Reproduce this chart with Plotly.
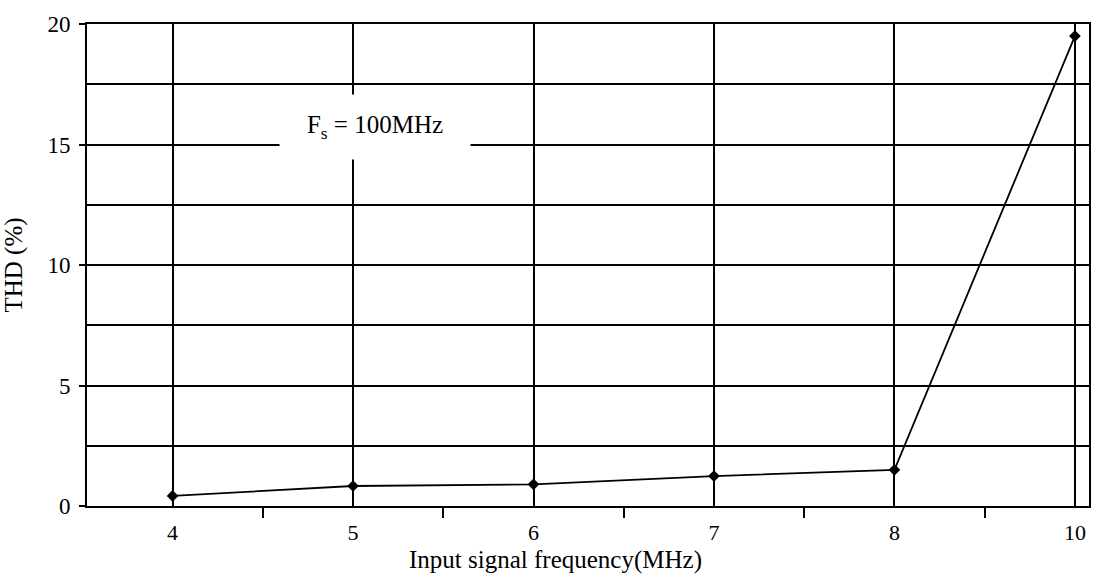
import plotly.graph_objects as go

freq_labels = ["4", "5", "6", "7", "8", "10"]
thd_percent = [0.42, 0.83, 0.9, 1.24, 1.5, 19.5]
y_tick_vals = [0, 5, 10, 15, 20]
y_grid_step = 2.5

x_idx = list(range(len(freq_labels)))
serif = "Liberation Serif, Times New Roman, serif"

fig = go.Figure()
fig.add_trace(go.Scatter(
    x=x_idx, y=thd_percent, mode="lines+markers",
    line=dict(color="black", width=1.8),
    marker=dict(symbol="diamond", size=9, color="black"),
    showlegend=False, cliponaxis=False,
))

fig.update_layout(
    width=1108, height=578,
    margin=dict(l=87, r=19, t=21, b=72),
    paper_bgcolor="white", plot_bgcolor="white",
    font=dict(family=serif, color="black", size=22),
    xaxis=dict(
        range=[-0.474, 5.078],
        tickvals=x_idx, ticktext=freq_labels,
        ticks="", showgrid=True, gridcolor="black", gridwidth=2,
        showline=True, linecolor="black", linewidth=2, mirror=True,
        zeroline=False,
        minor=dict(tick0=0.5, dtick=1, ticks="outside", ticklen=10,
                   tickwidth=2, tickcolor="black", showgrid=False),
        tickfont=dict(family=serif, size=22),
        ticklabelstandoff=6,
    ),
    yaxis=dict(
        range=[0, 20],
        tickvals=y_tick_vals,
        ticks="outside", ticklen=6, tickwidth=2, tickcolor="black",
        showgrid=True, gridcolor="black", gridwidth=2,
        minor=dict(dtick=y_grid_step, showgrid=True, gridcolor="black",
                   gridwidth=2, ticks=""),
        showline=True, linecolor="black", linewidth=2, mirror=True,
        zeroline=False,
        tickfont=dict(family=serif, size=23),
        ticklabelstandoff=4,
        title=dict(text="THD (%)", font=dict(family=serif, size=25), standoff=18),
    ),
)

fig.add_annotation(
    x=0.5, y=-0.112, xref="paper", yref="paper",
    text="Input signal frequency(MHz)", showarrow=False,
    font=dict(family=serif, size=25), xanchor="center", yanchor="middle",
    xshift=-33,
)

fig.add_annotation(
    x=1.12, y=15.74, xref="x", yref="y",
    text="F<sub>s</sub> = 100MHz", showarrow=False,
    font=dict(family=serif, size=25),
    bgcolor="white", borderpad=0, width=190, height=64,
    align="center", valign="middle",
)

fig.write_html("out.html")
